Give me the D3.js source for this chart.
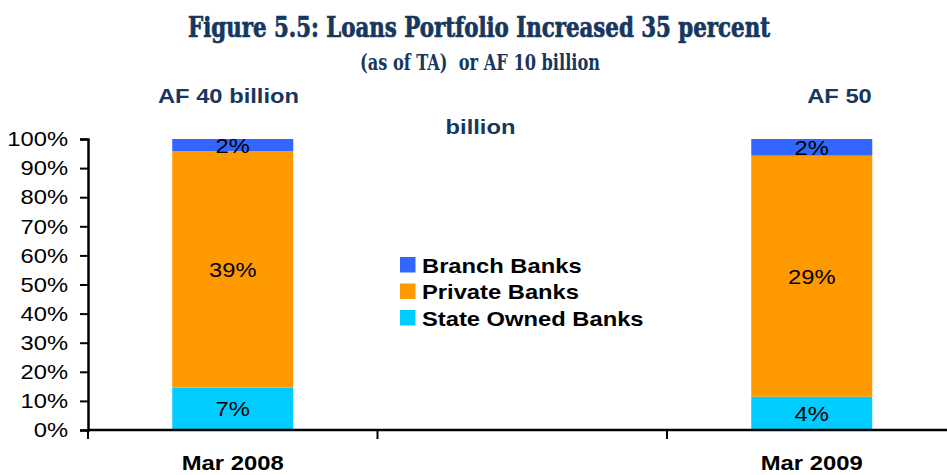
<!DOCTYPE html>
<html>
<head>
<meta charset="utf-8">
<script src="https://cdn.jsdelivr.net/npm/d3@7"></script>
<style>
  html, body { margin: 0; padding: 0; background: #fff; }
  svg { display: block; }
</style>
</head>
<body>
<svg id="chart" width="947" height="475"></svg>
<script>
// Loan shares (% of total assets) by bank group
const categories = ["Mar 2008", "", "Mar 2009"];
const barCategories = ["Mar 2008", "Mar 2009"];
const stateOwned = [7, 4];
const privateBanks = [39, 29];
const branchBanks = [2, 2];
const seriesNames = ["State Owned Banks", "Private Banks", "Branch Banks"];
const seriesColors = ["#00CCFF", "#FF9900", "#3366FF"];
const yTicks = [0, 0.1, 0.2, 0.3, 0.4, 0.5, 0.6, 0.7, 0.8, 0.9, 1.0];
const totalsLabels = ["AF 40 billion", "AF 50", "billion"];

const navy = "#17375E";
const sans = "'Liberation Sans', Arial, sans-serif";
const slab = "'DejaVu Serif Condensed', 'DejaVu Serif', serif";
const svg = d3.select("#chart");

// widen text horizontally by factor k
function stretch(sel, k) {
  sel.each(function () {
    const w = this.getComputedTextLength();
    d3.select(this).attr("textLength", w * k).attr("lengthAdjust", "spacingAndGlyphs");
  });
}

const x = d3.scaleBand().domain(categories).range([88, 956.5]).padding(0);
const y = d3.scaleLinear().domain([0, 1]).range([430, 139]);
const barW = x.bandwidth() * 0.418;

const rows = barCategories.map((c, i) => ({
  cat: c,
  "State Owned Banks": stateOwned[i],
  "Private Banks": privateBanks[i],
  "Branch Banks": branchBanks[i]
}));
const stack = d3.stack().keys(seriesNames).offset(d3.stackOffsetExpand);
const layers = stack(rows);

// stacked bars with value labels
const g = svg.append("g");
layers.forEach((layer, li) => {
  g.selectAll(null).data(layer).enter().append("rect")
    .attr("x", d => x(d.data.cat) + (x.bandwidth() - barW) / 2)
    .attr("y", d => y(d[1]))
    .attr("width", barW)
    .attr("height", d => y(d[0]) - y(d[1]))
    .attr("fill", seriesColors[li]);
  g.selectAll(null).data(layer).enter().append("text")
    .attr("x", d => x(d.data.cat) + x.bandwidth() / 2)
    .attr("y", d => (y(d[0]) + y(d[1])) / 2)
    .attr("dy", "0.36em")
    .attr("text-anchor", "middle")
    .attr("font-family", sans)
    .attr("font-size", 21)
    .attr("fill", "#000")
    .text(d => d.data[layer.key] + "%")
    .call(stretch, 1.13);
});

// y axis
const yAxis = svg.append("g").attr("transform", "translate(88,0)")
  .call(d3.axisLeft(y).tickValues(yTicks).tickFormat(d3.format(".0%")).tickSize(8).tickPadding(12));
yAxis.select(".domain").attr("stroke", "#000").attr("stroke-width", 2.5);
yAxis.selectAll(".tick line").attr("stroke", "#000").attr("stroke-width", 2);
yAxis.selectAll(".tick text")
  .attr("font-family", sans)
  .attr("font-size", 21).attr("fill", "#000")
  .call(stretch, 1.13);

// x axis: baseline with ticks on band boundaries
const xAxis = svg.append("g");
xAxis.append("line").attr("x1", 88).attr("x2", 956.5).attr("y1", y(0)).attr("y2", y(0))
  .attr("stroke", "#000").attr("stroke-width", 2.5);
xAxis.selectAll(null).data(categories).enter().append("line")
  .attr("x1", d => x(d)).attr("x2", d => x(d))
  .attr("y1", y(0)).attr("y2", y(0) + 9)
  .attr("stroke", "#000").attr("stroke-width", 2);
xAxis.selectAll(null).data(barCategories).enter().append("text")
  .attr("x", d => x(d) + x.bandwidth() / 2)
  .attr("y", 470)
  .attr("text-anchor", "middle")
  .attr("font-family", sans)
  .attr("font-weight", "bold").attr("font-size", 21).attr("fill", "#000")
  .text(d => d)
  .attr("textLength", 102).attr("lengthAdjust", "spacingAndGlyphs");

// titles
svg.append("text").attr("x", 479).attr("y", 37).attr("text-anchor", "middle")
  .attr("font-family", slab)
  .attr("font-weight", "bold").attr("font-size", 28).attr("fill", navy)
  .attr("stroke", navy).attr("stroke-width", 0.7)
  .attr("textLength", 582).attr("lengthAdjust", "spacingAndGlyphs")
  .text("Figure 5.5: Loans Portfolio Increased 35 percent");
svg.append("text").attr("x", 480).attr("y", 70).attr("text-anchor", "middle")
  .attr("font-family", slab)
  .attr("font-weight", "bold").attr("font-size", 22).attr("fill", navy)
  .attr("textLength", 240).attr("lengthAdjust", "spacingAndGlyphs")
  .attr("xml:space", "preserve")
  .text("(as of TA)  or AF 10 billion");

// total-size annotations
function annotate(label, cx, by) {
  svg.append("text").attr("x", cx).attr("y", by).attr("text-anchor", "middle")
    .attr("font-family", sans).attr("font-weight", "bold").attr("font-size", 21).attr("fill", navy)
    .text(label).call(stretch, 1.13);
}
annotate(totalsLabels[0], 228.5, 103);
annotate(totalsLabels[1], 839.5, 103);
annotate(totalsLabels[2], 480.5, 134);

// legend (top series first)
const legendOrder = [2, 1, 0];
const leg = svg.append("g").attr("transform", "translate(400,257)");
legendOrder.forEach((si, r) => {
  const row = leg.append("g").attr("transform", `translate(0,${r * 26.5})`);
  row.append("rect").attr("width", 15.5).attr("height", 15.5).attr("fill", seriesColors[si]);
  row.append("text").attr("x", 22).attr("y", 15.5)
    .attr("font-family", sans).attr("font-weight", "bold").attr("font-size", 21).attr("fill", "#000")
    .text(seriesNames[si]).call(stretch, 1.13);
});
</script>
</body>
</html>
